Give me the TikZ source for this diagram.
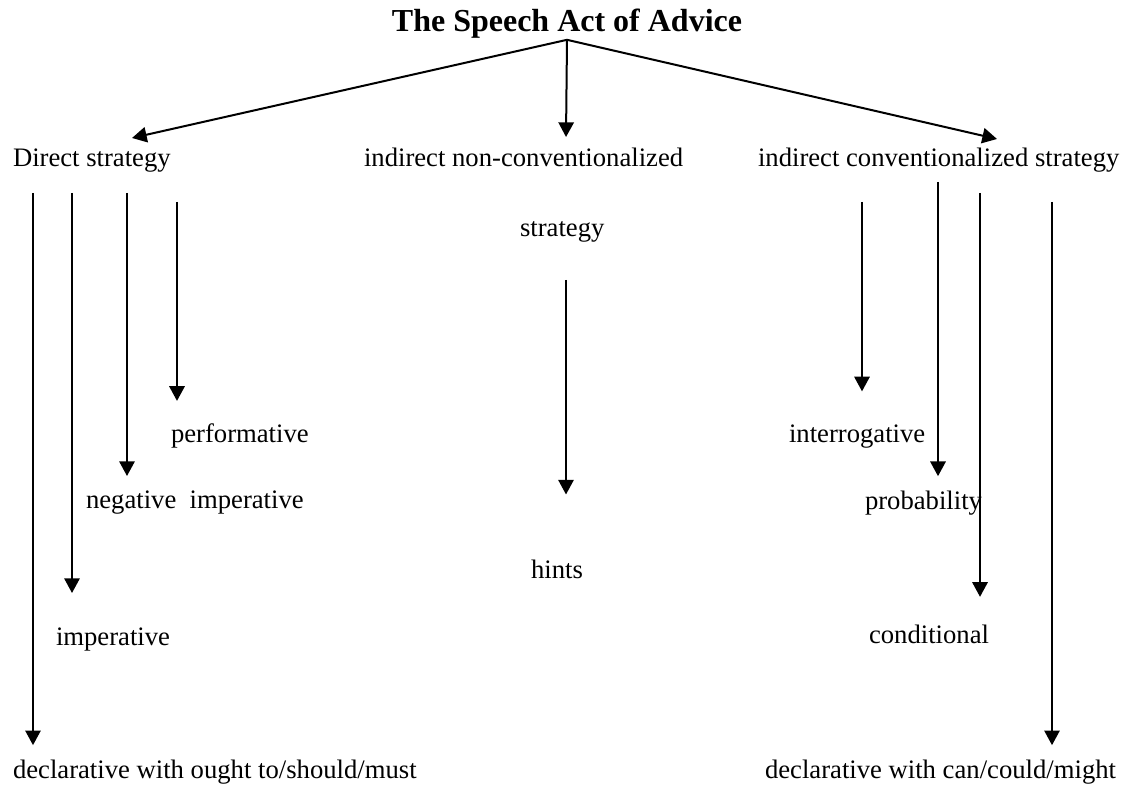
\documentclass[tikz,border=0pt]{standalone}
\usepackage{fontspec}
\setmainfont{Liberation Serif}
\usetikzlibrary{arrows.meta, positioning}

\begin{document}
\begin{tikzpicture}[x=0.75pt, y=-0.75pt, font=\fontsize{20}{24}\selectfont,
    >={Triangle[length=11pt,width=11.5pt]}, line width=1.5pt,
    lbl/.style={anchor=base west, inner sep=0pt}]
    \useasboundingbox (0,0) rectangle (1123,791);
    \node[anchor=base, inner sep=0pt, font=\fontsize{24}{28}\selectfont\bfseries] (title) at (567,32) {The Speech Act of Advice};
    % first level
    \node[lbl] (direct) at (12,167) {Direct strategy};
    \node[lbl] (nonconv) at (363,167) {indirect non-conventionalized};
    \node[lbl] (nonconv2) at (519,237) {strategy};
    \node[lbl] (conv) at (757,167) {indirect conventionalized strategy};
    \coordinate (tD) at (132,138);
    \coordinate (tN) at (566,137);
    \coordinate (tC) at (997,139);
    \draw[->] (title.south) -- (tD);
    \draw[->] (title.south) -- (tN);
    \draw[->] (title.south) -- (tC);
    % direct strategy
    \node[lbl] (perf) at (170,442) {performative};
    \node[lbl] (negimp) at (85,508) {negative\ \ imperative};
    \node[lbl] (imp) at (55,645) {imperative};
    \node[lbl] (declA) at (12,778) {declarative with ought to/should/must};
    \coordinate (sPerf) at (177,202);
    \coordinate (sNeg) at (127,193);
    \coordinate (sImp) at (72,193);
    \coordinate (sDeclA) at (33,193);
    \draw[->, shorten >=16pt] (sPerf) -- (sPerf |- perf.north);
    \draw[->, shorten >=10pt] (sNeg) -- (sNeg |- negimp.north);
    \draw[->, shorten >=25pt] (sImp) -- (sImp |- imp.north);
    \draw[->, shorten >=10pt] (sDeclA) -- (sDeclA |- declA.north);
    % non-conventionalized
    \node[lbl] (hints) at (530,578) {hints};
    \coordinate (sHints) at (566,280);
    \draw[->, shorten >=48pt] (sHints) -- (sHints |- hints.north);
    % conventionalized
    \node[lbl] (interr) at (788,442) {interrogative};
    \node[lbl] (prob) at (864,509) {probability};
    \node[lbl] (cond) at (868,643) {conditional};
    \node[lbl] (declB) at (764,778) {declarative with can/could/might};
    \coordinate (sInterr) at (862,202);
    \coordinate (sProb) at (938,182);
    \coordinate (sCond) at (980,193);
    \coordinate (sDeclB) at (1052,202);
    \draw[->, shorten >=24pt] (sInterr) -- (sInterr |- interr.north);
    \draw[->, shorten >=10pt] (sProb) -- (sProb |- prob.north);
    \draw[->, shorten >=20pt] (sCond) -- (sCond |- cond.north);
    \draw[->, shorten >=10pt] (sDeclB) -- (sDeclB |- declB.north);
\end{tikzpicture}
\end{document}
